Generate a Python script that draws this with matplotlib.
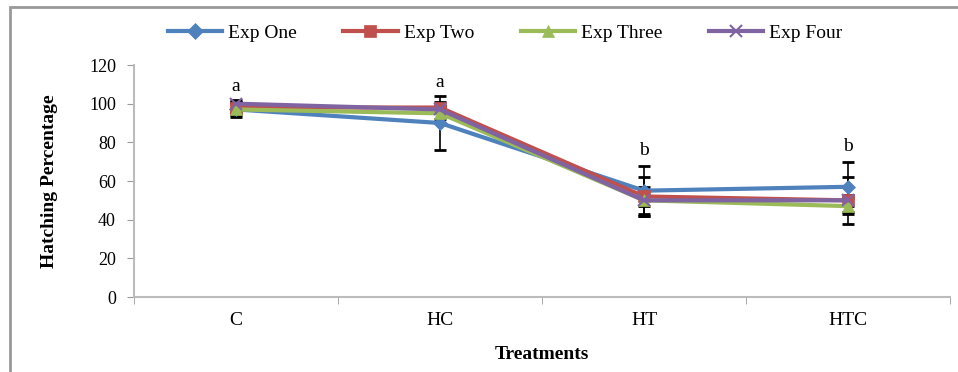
import numpy as np
import matplotlib.pyplot as plt
from matplotlib.patches import Rectangle

# Data
treatments = ['C', 'HC', 'HT', 'HTC']
exp_one = [97, 90, 55, 57]
exp_two = [98, 98, 52, 50]
exp_three = [97, 95, 50, 47]
exp_four = [100, 97, 50, 50]
err_one = [4, 14, 13, 13]
err_two = [3, 3, 10, 12]
err_three = [3, 3, 7, 4]
err_four = [2, 2, 3, 3]
letters = ['a', 'a', 'b', 'b']
letter_y = [109, 111, 76, 78]

series = [
    ('Exp One', exp_one, err_one, '#4F81BD', 'D', 7),
    ('Exp Two', exp_two, err_two, '#C0504D', 's', 8),
    ('Exp Three', exp_three, err_three, '#9BBB59', '^', 8),
    ('Exp Four', exp_four, err_four, '#8064A2', 'x', 8),
]

plt.rcParams['font.family'] = ['Liberation Serif', 'DejaVu Serif']

fig = plt.figure(figsize=(9.58, 3.72), dpi=100)
ax = fig.add_axes([134 / 958, 1 - 297 / 372, (950 - 134) / 958, (297 - 65) / 372])

x = np.arange(len(treatments))
for name, vals, err, color, marker, ms in series:
    ax.errorbar(x, vals, yerr=err, fmt='none', ecolor='black', elinewidth=1.2,
                capsize=4, capthick=2, zorder=2)
    ax.plot(x, vals, color=color, lw=3, marker=marker, ms=ms,
            markeredgewidth=1.5 if marker == 'x' else 0.5, label=name, zorder=3)

for xi, lt, ly in zip(x, letters, letter_y):
    ax.text(xi, ly, lt, ha='center', va='center', fontsize=14)

ax.set_xlim(-0.5, 3.5)
ax.set_ylim(0, 120)
ax.set_yticks(range(0, 121, 20))
ax.set_xticks(x)
ax.set_xticklabels(treatments, fontsize=14)
ax.set_xticks(np.arange(-0.5, 4, 1), minor=True)
ax.tick_params(axis='x', which='major', length=0, pad=11)
ax.tick_params(axis='x', which='minor', length=5, color='#999999', direction='out')
ax.tick_params(axis='y', length=5, color='#999999', labelsize=13, pad=8)

for s in ['top', 'right']:
    ax.spines[s].set_visible(False)
for s in ['left', 'bottom']:
    ax.spines[s].set_color('#BBBBBB')
    ax.spines[s].set_linewidth(1.5)

ax.set_ylabel('Hatching Percentage', fontsize=14, fontweight='bold', labelpad=22)
ax.set_xlabel('Treatments', fontsize=14, fontweight='bold', labelpad=12)

ax.legend(loc='center', bbox_to_anchor=(505 / 958, 1 - 33 / 372), bbox_transform=fig.transFigure,
          ncol=4, frameon=False, fontsize=14, handlelength=2.8, columnspacing=2.4,
          handletextpad=0.3, markerscale=1.1)

# outer frame
fig.patches.append(Rectangle((10 / 958, -0.1), 1.2, 1 - 7 / 372 + 0.1, transform=fig.transFigure,
                             fill=False, edgecolor='#999999', lw=2))

fig.savefig('out.png', dpi=100)
